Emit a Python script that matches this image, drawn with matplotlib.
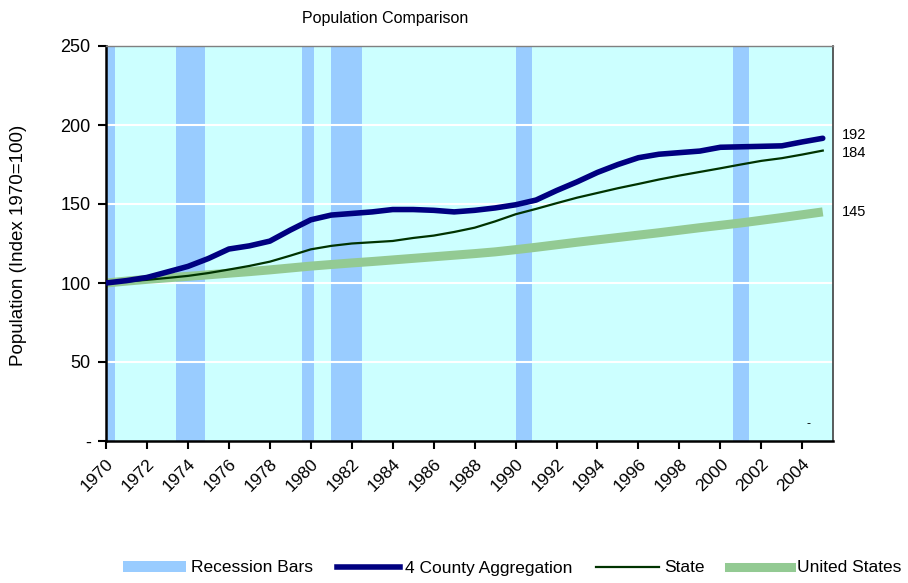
import numpy as np
import matplotlib.pyplot as plt
from matplotlib.patches import Patch
from matplotlib.lines import Line2D

plt.rcParams['font.family'] = ['Liberation Sans', 'DejaVu Sans']

# ------------------data--------------------
years = list(range(1970, 2006))
county = [100, 101.5, 103.5, 107, 110.5, 115.5, 121.5, 123.5, 126.5, 133.5, 140, 143, 144, 145, 146.5,
          146.5, 146, 145, 146, 147.5, 149.5, 152.5, 158.5, 164, 170, 175, 179.3, 181.5, 182.5, 183.5,
          185.9, 186.2, 186.5, 186.8, 189.3, 191.6]
state = [100, 101, 102, 103.2, 104.5, 106.3, 108.5, 110.8, 113.5, 117.3, 121.3, 123.5, 125, 125.8, 126.6,
         128.5, 130, 132.3, 135, 139, 143.5, 146.9, 150.5, 154, 157, 160, 162.7, 165.5, 168, 170.3,
         172.6, 175, 177.3, 179, 181.3, 183.8]
us = [100, 101.2, 102.3, 103.3, 104.2, 105.2, 106.2, 107.2, 108.3, 109.5, 110.7, 111.7, 112.7, 113.6, 114.6,
      115.6, 116.6, 117.6, 118.6, 119.7, 121.1, 122.6, 124.2, 125.8, 127.3, 128.8, 130.3, 131.8, 133.4, 135.0,
      136.5, 138.0, 139.7, 141.4, 143.2, 145.0]

# recession periods (start, end) in years
rec_start = [1969.9, 1973.4, 1979.55, 1981.0, 1990.0, 2000.6]
rec_end = [1970.45, 1974.85, 1980.15, 1982.5, 1990.8, 2001.4]

end_labels = ['192', '184', '145']
end_label_y = [193.5, 182.5, 145]

# ------------------plot--------------------
fig = plt.figure(figsize=(9.08, 5.83), dpi=100)
ax = fig.add_axes([106 / 908, 1 - 441 / 583, 727 / 908, 395 / 583])
ax.set_facecolor('#CCFFFF')

for s, e in zip(rec_start, rec_end):
    ax.axvspan(s, e, ymin=0, ymax=1, color='#99CCFF', lw=0, zorder=1)

for yv in [50, 100, 150, 200]:
    ax.axhline(yv, color='white', lw=1.5, zorder=1.5)

ax.plot(years, us, color='#93CA93', lw=6.5, zorder=2, solid_capstyle='butt')
ax.plot(years, state, color='#003300', lw=1.6, zorder=3)
ax.plot(years, county, color='#000080', lw=4, zorder=4, solid_capstyle='round')

for lab, yv in zip(end_labels, end_label_y):
    ax.text(2005.95, yv, lab, fontsize=10.5, va='center', ha='left', clip_on=False)
ax.text(2004.3, 11, '-', fontsize=9, ha='center', va='center')

ax.set_xlim(1970, 2005.5)
ax.set_ylim(0, 250)
ax.set_yticks([0, 50, 100, 150, 200, 250])
ax.set_yticklabels(['-', '50', '100', '150', '200', '250'], fontsize=13)
xt = list(range(1970, 2005, 2))
ax.set_xticks(xt)
ax.set_xticklabels([str(x) for x in xt], fontsize=12.5, rotation=45, ha='right', rotation_mode='anchor')
ax.tick_params(axis='both', direction='out', length=6, width=1.5, color='black')
ax.tick_params(axis='y', pad=5)
ax.tick_params(axis='x', pad=5)

ax.spines['left'].set_linewidth(1.8)
ax.spines['bottom'].set_linewidth(1.8)
ax.spines['top'].set_color('#808080')
ax.spines['right'].set_color('#404040')
ax.spines['top'].set_linewidth(1)
ax.spines['right'].set_linewidth(1.2)

ax.set_ylabel('Population (Index 1970=100)', fontsize=13.5)
ax.yaxis.set_label_coords(-79 / 727, 0.495)
fig.text(385 / 908, 1 - 18 / 583, 'Population Comparison', fontsize=11.5, ha='center', va='center')

handles = [Patch(facecolor='#99CCFF', edgecolor='none'),
           Line2D([], [], color='#000080', lw=4),
           Line2D([], [], color='#003300', lw=1.6),
           Line2D([], [], color='#93CA93', lw=6.5)]
labels = ['Recession Bars', '4 County Aggregation', 'State', 'United States']
fig.legend(handles, labels, loc='center', bbox_to_anchor=(512 / 908, 1 - 568 / 583), ncol=4,
           frameon=False, fontsize=12.5, handlelength=3.6,
           handletextpad=0.3, columnspacing=1.4, handleheight=0.6)

plt.savefig('out.png')
